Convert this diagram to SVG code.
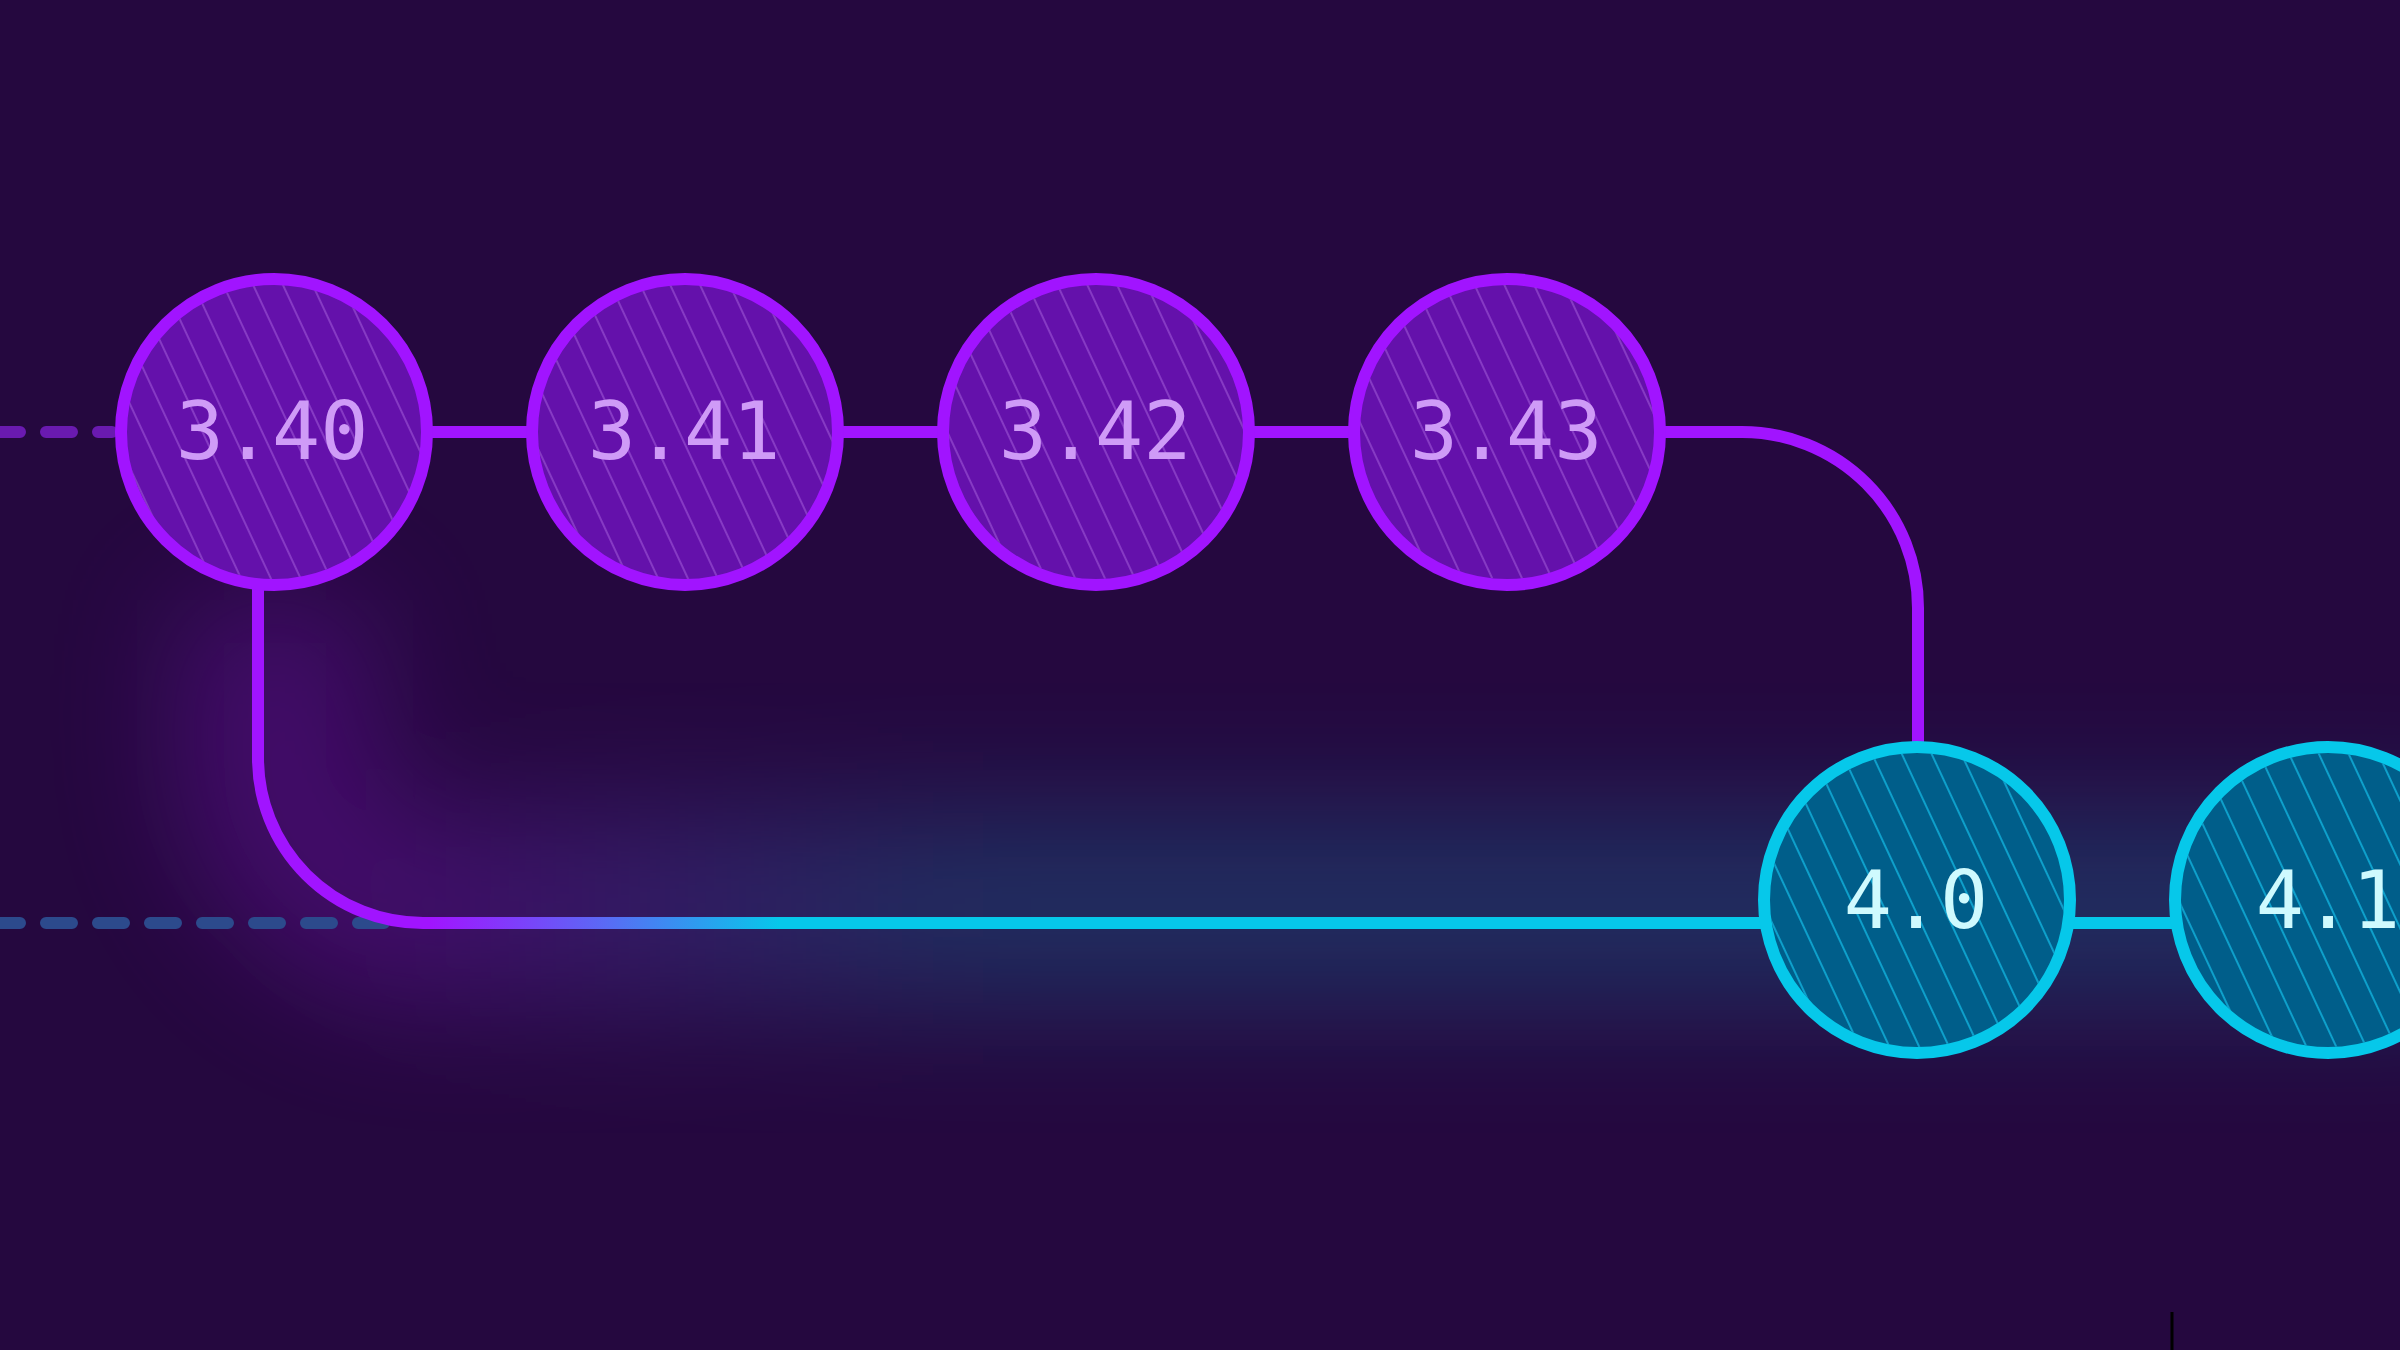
<svg xmlns="http://www.w3.org/2000/svg" width="2400" height="1350" viewBox="0 0 2400 1350">
  <defs>
    <style>
      .conn{fill:none;stroke-width:12;stroke-linecap:butt}
      .purple{stroke:#A114FF}
      .cyan{stroke:#06C8EA}
      .dash{stroke-dasharray:26 26;stroke-linecap:round}
      .nodeP{fill:#6411AB;stroke:#A114FF;stroke-width:12}
      .nodeC{fill:#005E8A;stroke:#06C8EA;stroke-width:12}
      .hatchP{fill:url(#hatchP)}
      .hatchC{fill:url(#hatchC)}
      .lblP{font-family:"DejaVu Sans Mono","Liberation Mono",monospace;font-size:80px;fill:#CF9BF7;text-anchor:middle}
      .lblC{font-family:"DejaVu Sans Mono","Liberation Mono",monospace;font-size:80px;fill:#CFFAFE;text-anchor:middle}
    </style>
    <pattern id="hatchP" patternUnits="userSpaceOnUse" width="27" height="27" patternTransform="rotate(-25)">
      <line x1="1" y1="0" x2="1" y2="27" stroke="#C98AF5" stroke-opacity="0.45" stroke-width="1.5"/>
    </pattern>
    <pattern id="hatchC" patternUnits="userSpaceOnUse" width="27" height="27" patternTransform="rotate(-25)">
      <line x1="1" y1="0" x2="1" y2="27" stroke="#12B4E0" stroke-opacity="0.85" stroke-width="1.8"/>
    </pattern>
    <linearGradient id="branchGrad" gradientUnits="userSpaceOnUse" x1="430" y1="0" x2="780" y2="0">
      <stop offset="0" stop-color="#A114FF"/>
      <stop offset="0.5" stop-color="#5A6AF5"/>
      <stop offset="1" stop-color="#06C8EA"/>
    </linearGradient>
    <linearGradient id="glowGrad" gradientUnits="userSpaceOnUse" x1="380" y1="0" x2="950" y2="0">
      <stop offset="0" stop-color="#8A14D0"/>
      <stop offset="1" stop-color="#1888B0"/>
    </linearGradient>
    <filter id="blur" filterUnits="userSpaceOnUse" x="-400" y="200" width="3200" height="1150">
      <feGaussianBlur stdDeviation="65"/>
    </filter>
  </defs>

  <rect width="2400" height="1350" fill="#25083F"/>

  <g id="glow" filter="url(#blur)" opacity="0.3">
    <path d="M275 600 V758 A150 150 0 0 0 425 908 H2500" fill="none" stroke="url(#glowGrad)" stroke-width="190"/>
  </g>

  <g id="connectors">
    <path class="conn dash" d="M-6 432 H112" stroke="#6A1AB0"/>
    <path class="conn dash" d="M-6 923 H400" stroke="#2C4A8C"/>
    <path class="conn purple" d="M274 432 H1507"/>
    <path class="conn purple" d="M1507 432 H1742 A176 176 0 0 1 1918 608 V900"/>
    <path class="conn" d="M258 432 V758 A165 165 0 0 0 423 923 H1918" stroke="url(#branchGrad)"/>
    <path class="conn cyan" d="M1918 923 H2329"/>
  </g>

  <g id="node-3.40">
    <circle class="nodeP" cx="274" cy="432" r="153"/>
    <circle class="hatchP" cx="274" cy="432" r="147"/>
    <text class="lblP" x="272" y="459">3.40</text>
  </g>
  <g id="node-3.41">
    <circle class="nodeP" cx="685" cy="432" r="153"/>
    <circle class="hatchP" cx="685" cy="432" r="147"/>
    <text class="lblP" x="684" y="459">3.41</text>
  </g>
  <g id="node-3.42">
    <circle class="nodeP" cx="1096" cy="432" r="153"/>
    <circle class="hatchP" cx="1096" cy="432" r="147"/>
    <text class="lblP" x="1095" y="459">3.42</text>
  </g>
  <g id="node-3.43">
    <circle class="nodeP" cx="1507" cy="432" r="153"/>
    <circle class="hatchP" cx="1507" cy="432" r="147"/>
    <text class="lblP" x="1506" y="459">3.43</text>
  </g>
  <g id="node-4.0">
    <circle class="nodeC" cx="1917" cy="900" r="153"/>
    <circle class="hatchC" cx="1917" cy="900" r="147"/>
    <text class="lblC" x="1916" y="928">4.0</text>
  </g>
  <g id="node-4.1">
    <circle class="nodeC" cx="2328" cy="900" r="153"/>
    <circle class="hatchC" cx="2328" cy="900" r="147"/>
    <text class="lblC" x="2328" y="928">4.1</text>
  </g>

  <line x1="2172" y1="1312" x2="2172" y2="1350" stroke="#000000" stroke-width="3"/>
</svg>
